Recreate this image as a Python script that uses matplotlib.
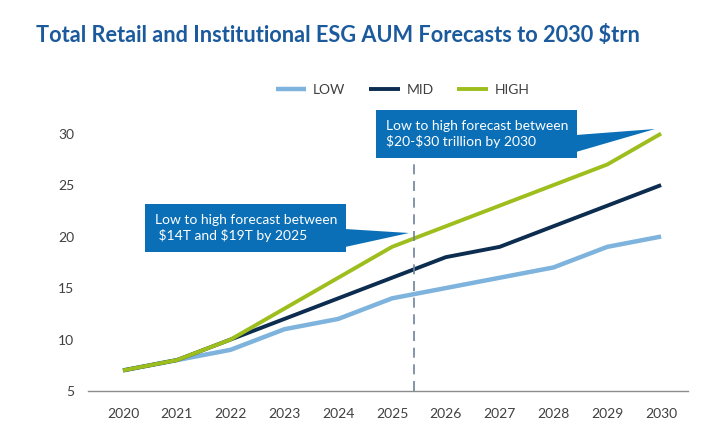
import matplotlib
matplotlib.use("Agg")
import matplotlib.pyplot as plt
from matplotlib.patches import Polygon, Rectangle

plt.rcParams['font.family'] = ['Lato', 'DejaVu Sans']
plt.rcParams['text.parse_math'] = False

years = [2020, 2021, 2022, 2023, 2024, 2025, 2026, 2027, 2028, 2029, 2030]
low = [7, 8, 9, 11, 12, 14, 15, 16, 17, 19, 20]
mid = [7, 8, 10, 12, 14, 16, 18, 19, 21, 23, 25]
high = [7, 8, 10, 13, 16, 19, 21, 23, 25, 27, 30]
yticks = [5, 10, 15, 20, 25, 30]

title = "Total Retail and Institutional ESG AUM Forecasts to 2030 $trn"
note_2025 = "Low to high forecast between\n $14T and $19T by 2025"
note_2030 = "Low to high forecast between\n$20-$30 trillion by 2030"

c_low = "#7db3dc"
c_mid = "#0c2d50"
c_high = "#9dbe1c"
c_box = "#0a6fb6"
c_title = "#1b5a9c"

W, H = 714, 437
fig = plt.figure(figsize=(W / 100, H / 100), dpi=100)
fig.patch.set_facecolor("white")

# axes placed to match the reference pixels
x0, x1, y_bot, y_top = 88, 688, 391, 113
ax = fig.add_axes([x0 / W, (H - y_bot) / H, (x1 - x0) / W, (y_bot - y_top) / H])

ax.plot(years, low, color=c_low, lw=3.2, label="LOW", solid_capstyle="butt")
ax.plot(years, mid, color=c_mid, lw=2.8, label="MID", solid_capstyle="butt")
ax.plot(years, high, color=c_high, lw=2.8, label="HIGH", solid_capstyle="butt")

ax.set_xlim(2019.35, 2030.5)
ax.set_ylim(5, 32)
ax.set_xticks(years)
ax.set_yticks(yticks)
ax.tick_params(axis="both", length=0, labelsize=10, colors="#404040")
ax.tick_params(axis="x", pad=12)
ax.tick_params(axis="y", pad=10)
for s in ["top", "right", "left"]:
    ax.spines[s].set_visible(False)
ax.spines["bottom"].set_color("#8c8c8c")
ax.spines["bottom"].set_linewidth(1.0)

# dashed marker between 2025 and 2026
ax.plot([2025.4, 2025.4], [5, 28.7], color="#6f8299", lw=1.2, ls=(0, (6, 4)))

leg = fig.legend(loc="center", bbox_to_anchor=(0.564, (H - 90) / H), ncol=3, frameon=False,
                 fontsize=10, handlelength=2.2, columnspacing=1.7, handletextpad=0.5)
for t in leg.get_texts():
    t.set_color("#404040")

fig.text(36 / W, (H - 36) / H, title, fontsize=15.7, fontweight="bold", color=c_title,
         ha="left", va="center")


def callout(box, tip, base, text):
    # box = (left, top, right, bottom) in pixels; tip / base in pixels
    l, t, r, b = box
    tr = fig.transFigure
    fig.patches.append(Rectangle((l / W, (H - b) / H), (r - l) / W, (b - t) / H,
                                 transform=tr, facecolor=c_box, edgecolor="none", zorder=5))
    pts = [(r - 1, base[0]), (tip[0], tip[1]), (r - 1, base[1])]
    fig.patches.append(Polygon([(px / W, (H - py) / H) for px, py in pts], closed=True,
                               transform=tr, facecolor=c_box, edgecolor="none", zorder=5))
    fig.text((l + 10) / W, (H - (t + b) / 2) / H, text, color="white", fontsize=10,
             ha="left", va="center", linespacing=1.35, zorder=6)


callout((145, 204, 346, 252), (409, 233), (229, 247), note_2025)
callout((376, 110, 577, 158), (655, 129), (135, 152), note_2030)

fig.savefig("out.png", dpi=100)
